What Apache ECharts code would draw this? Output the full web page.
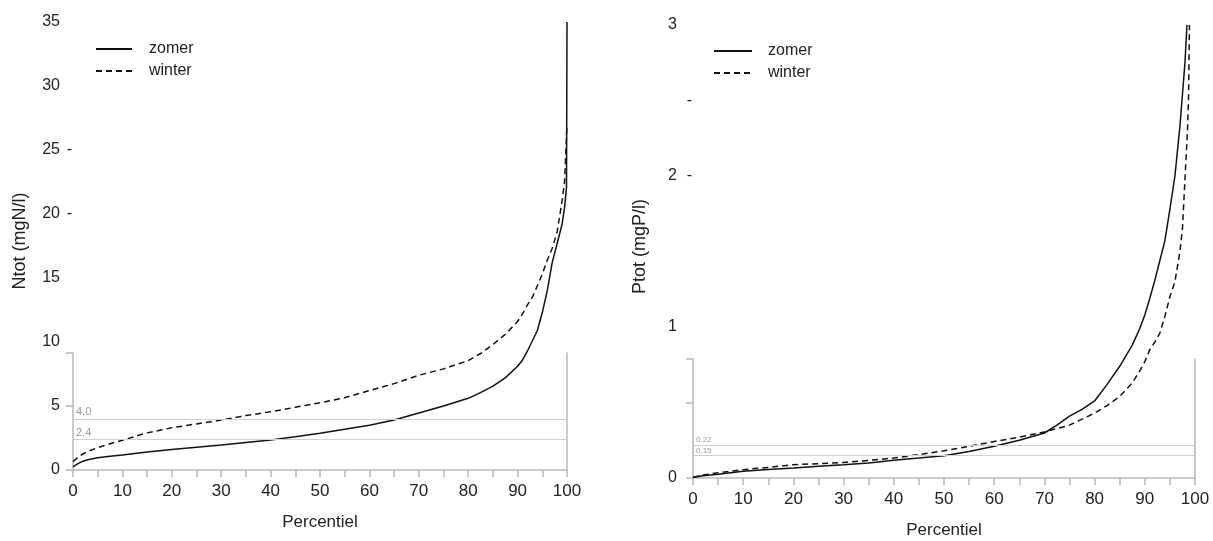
<!DOCTYPE html>
<html>
<head>
<meta charset="utf-8">
<script src="https://cdn.jsdelivr.net/npm/echarts@6/dist/echarts.min.js"></script>
<style>
  html, body { margin: 0; padding: 0; background: #fff; }
  #chart { width: 1213px; height: 541px; }
</style>
</head>
<body>
<div id="chart"></div>
<script>
// Ntot (left panel)
const nZomerPct = [0, 1, 2, 3, 5, 7.5, 10, 15, 20, 25, 30, 35, 40, 45, 50, 55, 60, 65, 70, 75, 80, 82.5, 85, 87.5, 90, 91, 92, 93, 94, 95, 96, 97, 98, 99, 99.5, 99.9, 100];
const nZomer = [0.25, 0.5, 0.68, 0.8, 0.95, 1.07, 1.17, 1.4, 1.6, 1.78, 1.95, 2.15, 2.35, 2.6, 2.87, 3.18, 3.5, 3.9, 4.45, 5.0, 5.6, 6.05, 6.55, 7.2, 8.1, 8.6, 9.3, 10.1, 10.9, 12.3, 14.0, 16.2, 17.7, 19.2, 20.5, 22.1, 35];
const nWinterPct = [0, 1, 2, 3, 5, 7.5, 10, 15, 20, 25, 30, 35, 40, 45, 50, 55, 60, 65, 70, 75, 80, 82.5, 85, 87.5, 90, 91, 92, 93, 94, 95, 96, 97, 98, 99, 99.5, 100];
const nWinter = [0.65, 1.0, 1.25, 1.45, 1.75, 2.05, 2.33, 2.9, 3.3, 3.6, 3.9, 4.25, 4.55, 4.9, 5.25, 5.65, 6.2, 6.75, 7.4, 7.9, 8.55, 9.1, 9.8, 10.6, 11.6, 12.2, 12.9, 13.5, 14.4, 15.3, 16.4, 17.3, 18.6, 21.0, 22.5, 27];
const nNormen = [4.0, 2.4];

// Ptot (right panel)
const pZomerPct = [0, 2, 5, 7.5, 10, 15, 20, 25, 30, 35, 40, 45, 50, 55, 60, 65, 70, 72.5, 75, 77.5, 80, 82.5, 85, 87.5, 89, 90, 91, 92, 93, 94, 95, 96, 97, 98, 98.4];
const pZomer = [0.005, 0.015, 0.025, 0.035, 0.044, 0.056, 0.066, 0.077, 0.088, 0.1, 0.117, 0.132, 0.148, 0.175, 0.21, 0.25, 0.298, 0.35, 0.41, 0.455, 0.51, 0.62, 0.74, 0.88, 0.99, 1.08, 1.19, 1.31, 1.44, 1.57, 1.78, 2.0, 2.33, 2.75, 3.0];
const pWinterPct = [0, 2, 5, 7.5, 10, 15, 20, 25, 30, 35, 40, 45, 50, 55, 60, 65, 67.5, 70, 75, 80, 82.5, 85, 87.5, 89, 90, 91, 92, 93, 94, 95, 96, 97, 97.5, 98, 98.5, 98.7, 98.9];
const pWinter = [0.005, 0.02, 0.035, 0.045, 0.055, 0.07, 0.088, 0.095, 0.103, 0.117, 0.132, 0.155, 0.18, 0.21, 0.242, 0.27, 0.288, 0.305, 0.35, 0.43, 0.48, 0.54, 0.63, 0.71, 0.77, 0.85, 0.9, 0.96, 1.07, 1.2, 1.3, 1.5, 1.65, 1.98, 2.3, 2.5, 3.0];
const pNormen = [0.22, 0.15];

const pairs = (xs, ys) => xs.map((x, i) => [x, ys[i]]);

const FONT = 'Liberation Sans, Arial, sans-serif';
const BOX = '#b8b8b8';
const TXT = '#222';

const chart = echarts.init(document.getElementById('chart'));

function normLines(vals, fontSize) {
  return {
    silent: true,
    symbol: 'none',
    lineStyle: { color: '#cfcfcf', width: 1, type: 'solid' },
    label: {
      position: 'insideStartTop',
      color: '#9a9a9a',
      fontSize: fontSize,
      fontFamily: FONT,
      distance: [3, 1],
      formatter: (p) => fontSize > 9 ? p.value.toFixed(1) : p.value.toFixed(2),
    },
    data: vals.map((v) => ({ yAxis: v })),
  };
}

function mainY(gridIndex, max, interval, fmt, dashW, name) {
  return {
    gridIndex: gridIndex,
    type: 'value',
    min: 0,
    max: max,
    interval: interval,
    axisLine: { show: false },
    axisTick: { show: false },
    splitLine: { show: false },
    name: name,
    nameLocation: 'middle',
    nameGap: 44,
    nameTextStyle: { color: TXT, fontSize: 18, fontFamily: FONT, padding: [0, 0, 0, 10] },
    axisLabel: {
      margin: 1,
      formatter: fmt,
      rich: {
        n: { color: TXT, fontSize: 16, fontFamily: FONT },
        t: { color: TXT, fontSize: 16, fontFamily: FONT, width: dashW, align: 'right' },
      },
    },
  };
}

function boxX(gridIndex, gap) {
  return {
    gridIndex: gridIndex,
    type: 'value',
    min: 0,
    max: 100,
    interval: 5,
    axisLine: { show: true, lineStyle: { color: BOX, width: 1.5 } },
    axisTick: { show: true, length: 7, lineStyle: { color: BOX, width: 1.5 } },
    splitLine: { show: false },
    axisLabel: {
      color: TXT,
      fontSize: 17,
      fontFamily: FONT,
      margin: 13,
      formatter: (v) => (v % 10 === 0 ? String(v) : ''),
    },
    name: 'Percentiel',
    nameLocation: 'middle',
    nameGap: gap,
    nameTextStyle: { color: TXT, fontSize: 17, fontFamily: FONT },
  };
}

function boxY(gridIndex, max, interval, position) {
  return {
    gridIndex: gridIndex,
    type: 'value',
    position: position,
    min: 0,
    max: max,
    interval: interval,
    axisLine: { show: true, lineStyle: { color: BOX, width: 1.5 } },
    axisTick: { show: position === 'left', length: 7, lineStyle: { color: BOX, width: 1.5 } },
    axisLabel: { show: false },
    splitLine: { show: false },
  };
}

const hiddenX = (gridIndex) => ({
  gridIndex: gridIndex,
  type: 'value',
  min: 0,
  max: 100,
  show: false,
});

const legendBase = {
  orient: 'vertical',
  itemHeight: 14,
  itemGap: 6,
  itemStyle: { opacity: 0 },
  data: ['zomer', 'winter'],
};

const option = {
  animation: false,
  backgroundColor: '#fff',
  grid: [
    { left: 73, width: 494, top: 22, height: 448 },
    { left: 73, width: 494, top: 353, height: 117 },
    { left: 693, width: 502, top: 25, height: 453 },
    { left: 693, width: 502, top: 359, height: 119 },
  ],
  legend: [
    Object.assign({}, legendBase, {
      left: 90, top: 36, itemWidth: 36,
      textStyle: { color: TXT, fontSize: 16, fontFamily: FONT, padding: [0, 0, 0, 12] },
    }),
    Object.assign({}, legendBase, {
      left: 708, top: 38, itemWidth: 38,
      textStyle: { color: TXT, fontSize: 16, fontFamily: FONT, padding: [0, 0, 0, 11] },
    }),
  ],
  xAxis: [hiddenX(0), boxX(1, 44), hiddenX(2), boxX(3, 44)],
  yAxis: [
    mainY(0, 35, 5, (v) => '{n|' + v + '}{t|' + (v === 20 || v === 25 ? '-' : '') + '}', 12, 'Ntot (mgN/l)'),
    boxY(1, 117 / 12.8, 5, 'left'),
    boxY(1, 117 / 12.8, 5, 'right'),
    mainY(2, 3, 0.5, (v) => {
      if (v === 2.5) return '{t|-}';
      if (v % 1 !== 0) return '';
      return '{n|' + v + '}{t|' + (v === 2 ? '-' : '') + '}';
    }, 15, 'Ptot (mgP/l)'),
    boxY(3, 119 / 151, 0.5, 'left'),
    boxY(3, 119 / 151, 0.5, 'right'),
  ],
  series: [
    {
      name: 'zomer', type: 'line', xAxisIndex: 0, yAxisIndex: 0, symbol: 'none',
      lineStyle: { color: '#111', width: 1.5 },
      itemStyle: { color: '#111' },
      data: pairs(nZomerPct, nZomer),
      markLine: normLines(nNormen, 11),
      z: 3,
    },
    {
      name: 'winter', type: 'line', xAxisIndex: 0, yAxisIndex: 0, symbol: 'none',
      lineStyle: { color: '#111', width: 1.5, type: [6, 4] },
      itemStyle: { color: '#111' },
      data: pairs(nWinterPct, nWinter),
      z: 3,
    },
    {
      name: 'zomer', type: 'line', xAxisIndex: 2, yAxisIndex: 3, symbol: 'none',
      lineStyle: { color: '#111', width: 1.5 },
      itemStyle: { color: '#111' },
      data: pairs(pZomerPct, pZomer),
      markLine: normLines(pNormen, 8),
      z: 3,
    },
    {
      name: 'winter', type: 'line', xAxisIndex: 2, yAxisIndex: 3, symbol: 'none',
      lineStyle: { color: '#111', width: 1.5, type: [6, 4] },
      itemStyle: { color: '#111' },
      data: pairs(pWinterPct, pWinter),
      z: 3,
    },
  ],
};

chart.setOption(option);
</script>
</body>
</html>
